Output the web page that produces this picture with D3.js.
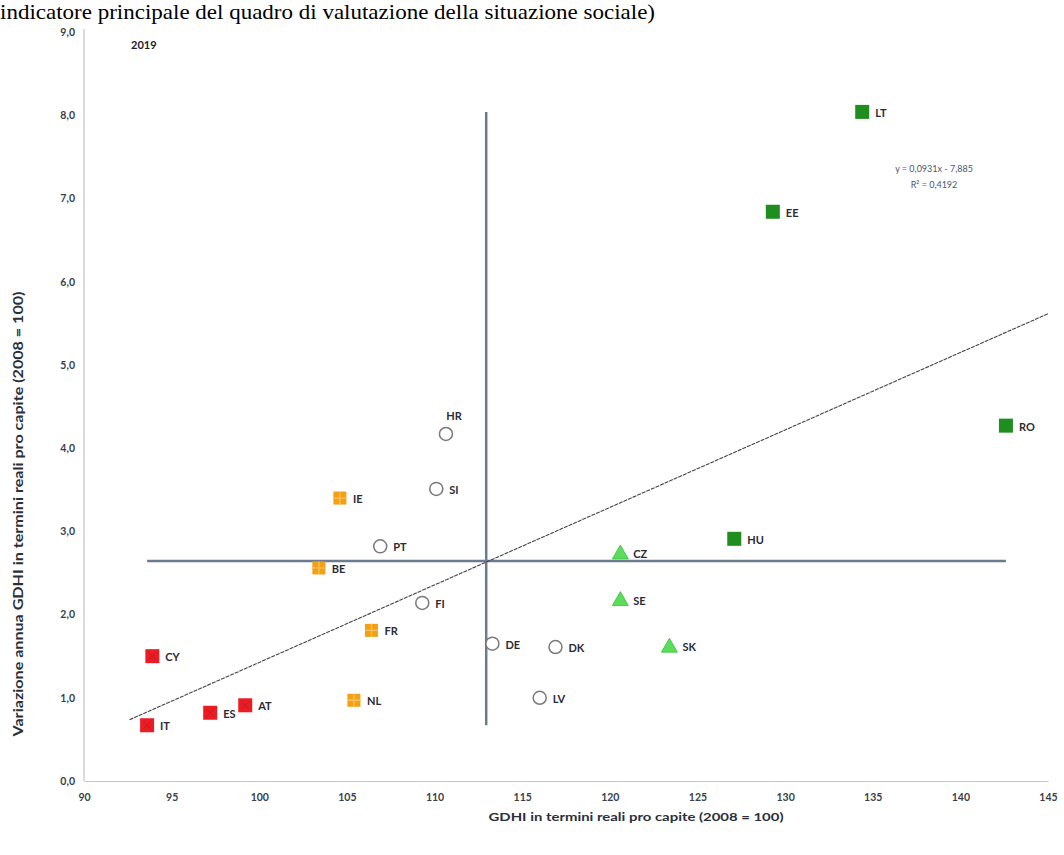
<!DOCTYPE html>
<html>
<head>
<meta charset="utf-8">
<script src="https://cdn.jsdelivr.net/npm/d3@7"></script>
<style>
  html, body { margin: 0; padding: 0; background: #ffffff; }
  svg { display: block; }
</style>
</head>
<body>
<svg id="chart" width="1064" height="855"></svg>
<script>
// ---- data ----
const countries = ["LT","EE","RO","HU","CZ","SE","SK","HR","SI","PT","FI","DE","DK","LV","IE","BE","FR","NL","CY","IT","ES","AT"];
const gdhiIndex = [134.4,129.3,142.6,127.1,120.6,120.6,123.4,110.65,110.1,106.9,109.3,113.3,116.9,116.0,104.6,103.4,106.4,105.4,93.9,93.6,97.2,99.2];
const annualChange = [8.04,6.84,4.27,2.91,2.74,2.18,1.62,4.17,3.51,2.82,2.14,1.65,1.61,1.00,3.40,2.56,1.81,0.97,1.50,0.67,0.82,0.91];
const groups = ["green","green","green","green","tri","tri","tri","circle","circle","circle","circle","circle","circle","circle","orange","orange","orange","orange","red","red","red","red"];
const labelSide = {"HR":"above"};
const xTicks = [90,95,100,105,110,115,120,125,130,135,140,145];
const yTicks = [0,1,2,3,4,5,6,7,8,9];
const trendSlope = 0.0931, trendIntercept = -7.885, trendR2 = 0.4192;
const trendRange = [92.6, 145];
const yearLabel = "2019";
const headerText = "indicatore principale del quadro di valutazione della situazione sociale)";
const xTitle = "GDHI in termini reali pro capite (2008 = 100)";
const yTitle = "Variazione annua GDHI in termini reali pro capite (2008 = 100)";

const data = countries.map((c,i)=>({c, x:gdhiIndex[i], y:annualChange[i], g:groups[i]}));

// ---- drawing ----
const svg = d3.select("#chart");
const font = "Lato, 'Open Sans', sans-serif";
const x = d3.scaleLinear().domain([90,145]).range([84,1048]);
const y = d3.scaleLinear().domain([0,9]).range([781,32]);

// header text
svg.append("text").attr("x",0).attr("y",19)
  .attr("font-family","'Liberation Serif', 'Times New Roman', serif")
  .attr("font-size",21).attr("fill","#000")
  .attr("textLength",655).attr("lengthAdjust","spacingAndGlyphs")
  .text(headerText);

// axes
const fmt = d => d.toFixed(1).replace(".",",");
const yAxis = svg.append("g").attr("transform",`translate(${x(90)},0)`)
  .call(d3.axisLeft(y).tickValues(yTicks).tickFormat(fmt).tickSize(0).tickPadding(9));
const xAxis = svg.append("g").attr("transform",`translate(0,${y(0)})`)
  .call(d3.axisBottom(x).tickValues(xTicks).tickFormat(d3.format("d")).tickSize(0).tickPadding(13));
[yAxis,xAxis].forEach(a=>{
  a.select(".domain").attr("stroke","#c4c4c4").attr("stroke-width",1.2);
  a.selectAll("text").attr("font-family",font).attr("font-weight","bold")
   .attr("font-size",10.5).attr("fill","#3a3f4a");
});
yAxis.select(".domain").attr("d",`M0,${y(9)-3}V${y(0)}`);

// axis titles
svg.append("text").attr("x",636).attr("y",821).attr("text-anchor","middle")
  .attr("font-family",font).attr("font-weight","bold").attr("font-size",12).attr("fill","#2a2f3a")
  .attr("textLength",295).attr("lengthAdjust","spacingAndGlyphs")
  .text(xTitle);
svg.append("text").attr("transform","translate(23,514) rotate(-90)").attr("text-anchor","middle")
  .attr("font-family",font).attr("font-weight","bold").attr("font-size",13).attr("fill","#2a2f3a")
  .attr("textLength",445).attr("lengthAdjust","spacingAndGlyphs")
  .text(yTitle);

// year
svg.append("text").attr("x",131).attr("y",49).attr("font-family",font).attr("font-weight","bold")
  .attr("font-size",11).attr("fill","#222").text(yearLabel);

// mean lines
const mx = d3.mean(data,d=>d.x), my = d3.mean(data,d=>d.y);
const [xmin,xmax] = d3.extent(data,d=>d.x), [ymin,ymax] = d3.extent(data,d=>d.y);
svg.append("line").attr("x1",x(xmin)).attr("x2",x(xmax)).attr("y1",y(my)).attr("y2",y(my))
  .attr("stroke","#6d7b8f").attr("stroke-width",2.5);
svg.append("line").attr("x1",x(mx)).attr("x2",x(mx)).attr("y1",y(ymax)).attr("y2",y(ymin))
  .attr("stroke","#6d7b8f").attr("stroke-width",2.5);

// trend line
svg.append("line")
  .attr("x1",x(trendRange[0])).attr("y1",y(trendSlope*trendRange[0]+trendIntercept))
  .attr("x2",x(trendRange[1])).attr("y2",y(trendSlope*trendRange[1]+trendIntercept))
  .attr("stroke","#444").attr("stroke-width",1.1).attr("stroke-dasharray","4,1");

// equation
const eq = svg.append("g").attr("font-family",font).attr("font-size",9).attr("fill","#4a5570").attr("text-anchor","middle");
eq.append("text").attr("x",934).attr("y",172)
  .text(`y = ${String(trendSlope).replace(".",",")}x - ${String(-trendIntercept).replace(".",",")}`);
eq.append("text").attr("x",934).attr("y",188)
  .text(`R² = ${String(trendR2).replace(".",",")}`);

// markers
const g = svg.append("g");
data.forEach(d=>{
  const cx = x(d.x), cy = y(d.y);
  if (d.g==="green") {
    g.append("rect").attr("x",cx-7).attr("y",cy-7).attr("width",14).attr("height",14).attr("fill","#1f8e1f");
  } else if (d.g==="red") {
    g.append("rect").attr("x",cx-7).attr("y",cy-7).attr("width",14).attr("height",14).attr("fill","#ec1c24");
    g.append("path").attr("d",`M${cx-4},${cy-4}L${cx+4},${cy+4}M${cx+4},${cy-4}L${cx-4},${cy+4}`)
      .attr("stroke","#c81820").attr("stroke-width",1);
  } else if (d.g==="orange") {
    g.append("rect").attr("x",cx-6.5).attr("y",cy-6.5).attr("width",13).attr("height",13).attr("fill","#f5a014");
    g.append("path").attr("d",`M${cx},${cy-6.5}V${cy+6.5}M${cx-6.5},${cy}H${cx+6.5}`)
      .attr("stroke","#f7c25c").attr("stroke-width",1.3);
  } else if (d.g==="tri") {
    g.append("path").attr("d",`M${cx},${cy-8}L${cx+8},${cy+6}L${cx-8},${cy+6}Z`)
      .attr("fill","#5bdc5b").attr("stroke","#3cbf3c").attr("stroke-width",0.8);
  } else {
    g.append("circle").attr("cx",cx).attr("cy",cy).attr("r",6.5).attr("fill","#fff")
      .attr("stroke","#7a7a7a").attr("stroke-width",1.5);
  }
  const above = labelSide[d.c]==="above";
  g.append("text")
    .attr("x", above ? cx+8 : cx+13).attr("y", above ? cy-14 : cy+5)
    .attr("text-anchor", above ? "middle" : "start")
    .attr("font-family",font).attr("font-weight","bold").attr("font-size",11).attr("fill","#2a2a35")
    .text(d.c);
});
</script>
</body>
</html>
